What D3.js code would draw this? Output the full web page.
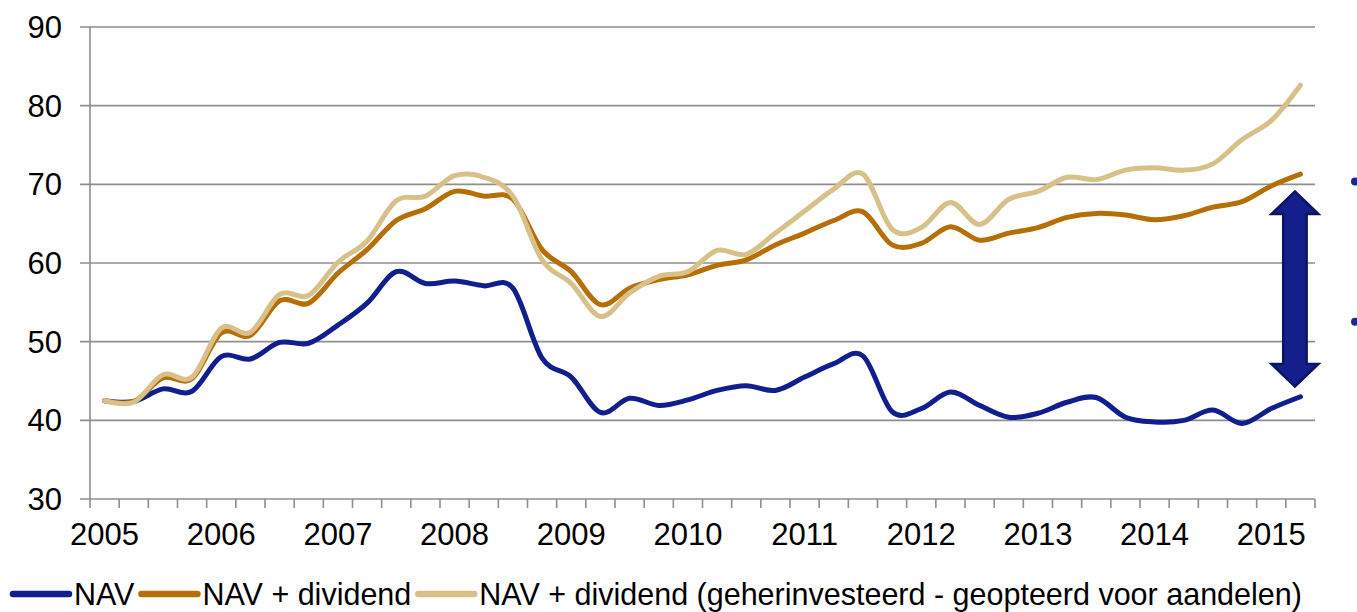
<!DOCTYPE html>
<html>
<head>
<meta charset="utf-8">
<script src="https://cdn.jsdelivr.net/npm/d3@7"></script>
<style>
  body { margin: 0; background: #fff; }
  svg { display: block; font-family: "Liberation Sans", Arial, sans-serif; }
</style>
</head>
<body>
<div id="chart"></div>
<script>
// quarterly points, 2005 Q1 .. 2015 Q2
const years = d3.range(2005, 2016)
const quarters = years.flatMap(y => [1, 2, 3, 4].map(q => y + " Q" + q)).slice(0, 42)
const yearLabels = quarters.filter((d, i) => i % 4 === 0)

const nav = [42.5, 42.4, 44.0, 43.7, 48.1, 47.8, 49.9, 49.8, 52.1, 54.9, 58.9, 57.4, 57.7, 57.1,
  56.8, 47.9, 45.5, 41.0, 42.8, 41.9, 42.6, 43.8, 44.4, 43.8, 45.5, 47.2, 48.2, 41.1,
  41.5, 43.6, 41.9, 40.4, 40.9, 42.3, 42.9, 40.4, 39.8, 40.0, 41.3, 39.6, 41.5, 43.0]
const navDiv = [42.5, 42.4, 45.4, 45.3, 51.1, 50.8, 55.2, 54.9, 58.7, 61.7, 65.4, 66.9, 69.1, 68.5,
  68.1, 61.7, 58.9, 54.7, 56.8, 57.9, 58.5, 59.7, 60.4, 62.3, 63.8, 65.4, 66.5, 62.3,
  62.5, 64.6, 62.9, 63.8, 64.5, 65.8, 66.3, 66.1, 65.5, 66.0, 67.1, 67.8, 69.8, 71.3]
const navDivReinv = [42.5, 42.3, 45.8, 45.5, 51.7, 51.2, 56.0, 55.9, 60.1, 62.8, 67.9, 68.5, 71.1, 70.9,
  68.5, 60.4, 57.4, 53.2, 56.2, 58.3, 58.9, 61.6, 61.1, 63.8, 66.6, 69.4, 71.3, 64.3,
  64.5, 67.7, 64.9, 68.1, 69.1, 70.9, 70.6, 71.8, 72.1, 71.8, 72.6, 75.7, 78.1, 82.6]

const seriesNames = ["NAV", "NAV + dividend", "NAV + dividend (geherinvesteerd - geopteerd voor aandelen)"]
const seriesColors = ["#111f8e", "#b56f06", "#d8c189"]
const yTicks = [30, 40, 50, 60, 70, 80, 90]

// the gap annotation (arrow) in data units
const arrowFrom = 69.1
const arrowTo = 44.3

const width = 1357, height = 612
const margin = { top: 27, right: 42, bottom: 113, left: 90 }

const svg = d3.select("#chart").append("svg")
    .attr("width", width)
    .attr("height", height)

const x = d3.scaleBand()
    .domain(quarters)
    .range([margin.left, width - margin.right])
    .padding(0)

const y = d3.scaleLinear()
    .domain([30, 90])
    .range([height - margin.bottom, margin.top])

// gridlines
svg.append("g")
    .selectAll("line")
    .data(yTicks)
    .enter().append("line")
    .attr("x1", margin.left - 10)
    .attr("x2", width - margin.right)
    .attr("y1", d => y(d))
    .attr("y2", d => y(d))
    .attr("stroke", "#8e8e8e")
    .attr("stroke-width", 1.6)

// y axis line
svg.append("line")
    .attr("x1", margin.left).attr("x2", margin.left)
    .attr("y1", y(90)).attr("y2", y(30))
    .attr("stroke", "#8e8e8e")
    .attr("stroke-width", 1.6)

// y labels
svg.append("g")
    .selectAll("text")
    .data(yTicks)
    .enter().append("text")
    .attr("x", margin.left - 28)
    .attr("y", d => y(d))
    .attr("dy", "0.36em")
    .attr("text-anchor", "end")
    .style("font-size", "31px")
    .text(d => d)

// x ticks at category boundaries
const boundaries = quarters.map(d => x(d)).concat([x.range()[1]])
svg.append("g")
    .selectAll("line")
    .data(boundaries)
    .enter().append("line")
    .attr("x1", d => d).attr("x2", d => d)
    .attr("y1", y(30)).attr("y2", y(30) + 9)
    .attr("stroke", "#8e8e8e")
    .attr("stroke-width", 1.6)

// x labels
const xAxis = svg.append("g")
    .attr("transform", "translate(0," + y(30) + ")")
    .call(d3.axisBottom(x).tickValues(yearLabels).tickSize(0).tickFormat(d => d.slice(0, 4)))
xAxis.select(".domain").remove()
xAxis.selectAll("text")
    .attr("y", 46)
    .attr("dy", 0)
    .attr("fill", "#000")
    .style("font-size", "31px")
    .style("font-family", "'Liberation Sans', Arial, sans-serif")

// lines
const line = d3.line()
    .x((d, i) => x(quarters[i]) + x.bandwidth() / 2)
    .y(d => y(d))
    .curve(d3.curveCardinal.tension(0))

const allSeries = [nav, navDiv, navDivReinv]
svg.append("g")
    .selectAll("path")
    .data(allSeries)
    .enter().append("path")
    .attr("d", line)
    .attr("fill", "none")
    .attr("stroke", (d, i) => seriesColors[i])
    .attr("stroke-width", 5)
    .attr("stroke-linecap", "round")
    .attr("stroke-linejoin", "round")

// double arrow
const ax = x(quarters[41]) + x.bandwidth() / 2 - 5.5
const yTop = y(arrowFrom), yBot = y(arrowTo)
const headW = 23.5, shaftW = 11.7, headH = 22.6
const arrowPts = [
    [ax, yTop],
    [ax + headW, yTop + headH],
    [ax + shaftW, yTop + headH],
    [ax + shaftW, yBot - headH],
    [ax + headW, yBot - headH],
    [ax, yBot],
    [ax - headW, yBot - headH],
    [ax - shaftW, yBot - headH],
    [ax - shaftW, yTop + headH],
    [ax - headW, yTop + headH]
]
svg.append("polygon")
    .attr("points", arrowPts.map(p => p.join(",")).join(" "))
    .attr("fill", "#141f8c")
    .attr("stroke", "#0b1460")
    .attr("stroke-width", 2.5)
    .attr("stroke-linejoin", "miter")

// cut-off bullets at the right edge
svg.append("g")
    .selectAll("circle")
    .data([181.5, 321.7])
    .enter().append("circle")
    .attr("cx", 1355)
    .attr("cy", d => d)
    .attr("r", 4)
    .attr("fill", "#1a2a90")

// legend
const legend = svg.append("g").attr("transform", "translate(13,594)")
let lx = 0
seriesNames.forEach(function (name, i) {
    legend.append("line")
        .attr("x1", lx).attr("x2", lx + 56)
        .attr("y1", 0).attr("y2", 0)
        .attr("stroke", seriesColors[i])
        .attr("stroke-width", 6.5)
        .attr("stroke-linecap", "round")
    const t = legend.append("text")
        .attr("x", lx + 61)
        .attr("y", 11)
        .style("font-size", "30.5px")
        .text(name)
    lx += 61 + t.node().getComputedTextLength() + 7
})
</script>
</body>
</html>
